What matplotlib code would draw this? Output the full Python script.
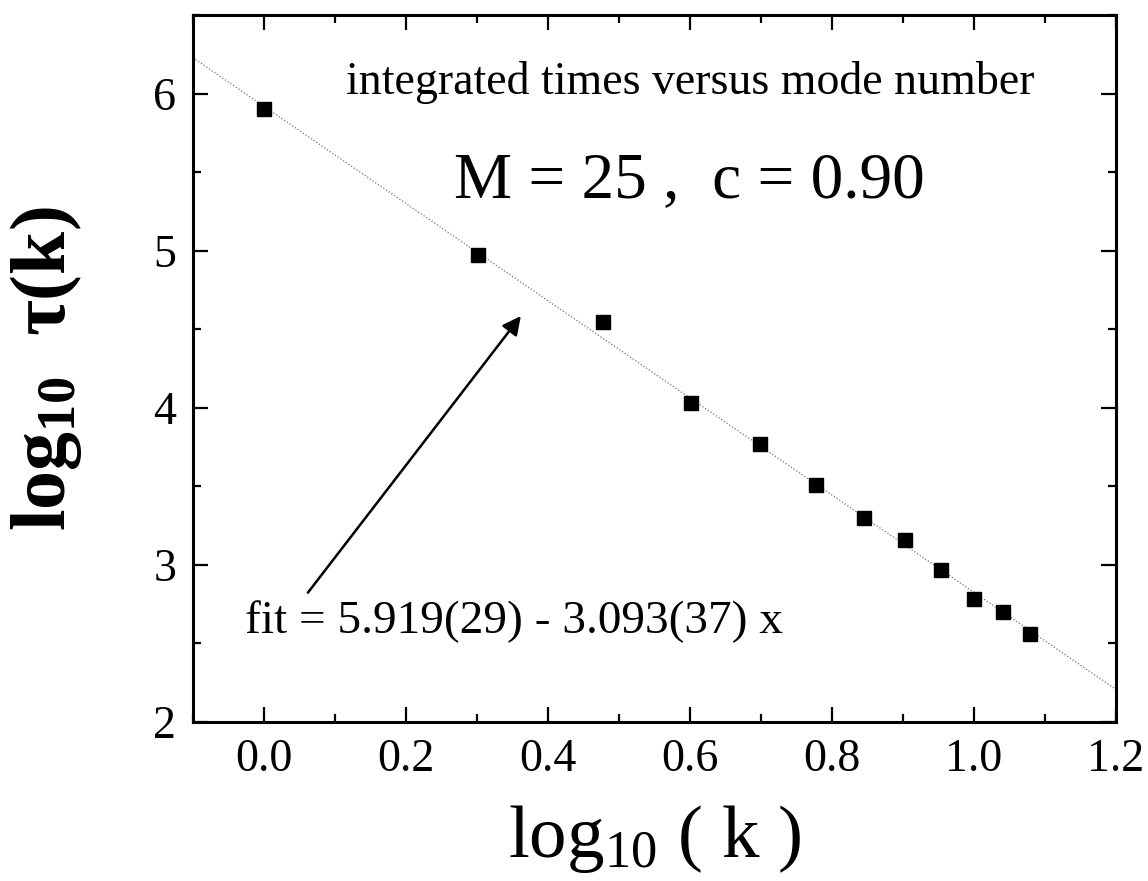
import numpy as np
import matplotlib
matplotlib.use("Agg")
import matplotlib.pyplot as plt
from matplotlib.ticker import MultipleLocator

# values: log10(k) for modes k=1..12 and log10 tau(k)
log_k = [0.0, 0.301, 0.477, 0.602, 0.699, 0.778, 0.845, 0.903, 0.954, 1.0, 1.041, 1.079]
log_tau = [5.90, 4.97, 4.545, 4.03, 3.77, 3.51, 3.30, 3.16, 2.97, 2.785, 2.70, 2.56]

# straight-line fit quoted on the plot
fit_a = 5.919
fit_b = -3.093
fit_x = np.array([-0.1, 1.2])

plt.rcParams['font.family'] = ['Liberation Serif', 'DejaVu Serif']
plt.rcParams['mathtext.fontset'] = 'custom'
plt.rcParams['mathtext.rm'] = 'Liberation Serif'
plt.rcParams['mathtext.it'] = 'Liberation Serif:italic'
plt.rcParams['mathtext.bf'] = 'Liberation Serif:bold'

fig = plt.figure(figsize=(11.48, 8.81), dpi=100)
ax = fig.add_axes([0.168, 0.1805, 0.804, 0.8025])

# fit line, thin grey dots
ax.plot(fit_x, fit_a + fit_b*fit_x, color='0.45', lw=0.9, ls=(0, (1, 1.6)), zorder=1)
ax.plot(log_k, log_tau, ls='none', marker='s', ms=10.5, color='k', zorder=3)

ax.set_xlim(-0.1, 1.2)
ax.set_ylim(2, 6.5)
ax.xaxis.set_minor_locator(MultipleLocator(0.1))
ax.yaxis.set_major_locator(MultipleLocator(1))
ax.yaxis.set_minor_locator(MultipleLocator(0.5))
ax.set_xticks(np.arange(0, 1.21, 0.2))
ax.set_xticklabels(['0.0', '0.2', '0.4', '0.6', '0.8', '1.0', '1.2'])
ax.tick_params(which='both', direction='in', top=True, right=True, width=1.6)
ax.tick_params(which='major', length=11, labelsize=33, pad=12)
ax.tick_params(which='minor', length=6)
for s in ax.spines.values():
    s.set_linewidth(2.2)

ax.set_xlabel(r'log$_{\mathrm{10}}$ ( k )', fontsize=54)
ax.xaxis.set_label_coords(0.5, -0.115)
ax.xaxis.label.set_va('top')
ax.set_ylabel(r'log$_{\mathbf{10}}$  $\mathbf{\tau}$(k)', fontsize=56, fontweight='bold')
ax.yaxis.set_label_coords(-0.118, 0.5)

ax.text(0.6, 6.0, 'integrated times versus mode number', fontsize=33,
        ha='center', va='baseline')
ax.text(0.6, 5.34, 'M = 25 ,  c = 0.90', fontsize=47, ha='center', va='baseline')

ax.annotate('', xy=(0.362, 4.584), xytext=(0.062, 2.823),
            arrowprops=dict(arrowstyle='-|>', lw=1.8, color='k', mutation_scale=28,
                            shrinkA=0, shrinkB=0))
ax.text(-0.027, 2.568, 'fit = 5.919(29) - 3.093(37) x', fontsize=34,
        ha='left', va='baseline')

fig.savefig('out.png', dpi=100)
